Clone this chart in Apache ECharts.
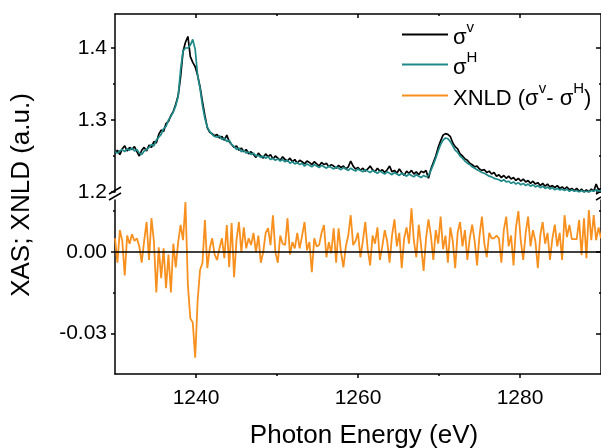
<!DOCTYPE html>
<html><head><meta charset="utf-8">
<script src="https://cdn.jsdelivr.net/npm/echarts@6/dist/echarts.min.js"></script>
<style>html,body{margin:0;padding:0;background:#fff}#c{width:601px;height:448px}</style>
</head><body><div id="c"></div>
<script>
// Photon energy grid (eV)
const energy = [
1230,1230.3,1230.6,1230.9,1231.2,1231.5,1231.8,1232.1,1232.4,1232.7,
1233,1233.3,1233.6,1233.9,1234.2,1234.5,1234.8,1235.1,1235.4,1235.7,
1236,1236.3,1236.6,1236.9,1237.2,1237.5,1237.8,1238.1,1238.4,1238.7,
1239,1239.3,1239.6,1239.9,1240.2,1240.5,1240.8,1241.1,1241.4,1241.7,
1242,1242.3,1242.6,1242.9,1243.2,1243.5,1243.8,1244.1,1244.4,1244.7,
1245,1245.3,1245.6,1245.9,1246.2,1246.5,1246.8,1247.1,1247.4,1247.7,
1248,1248.3,1248.6,1248.9,1249.2,1249.5,1249.8,1250.1,1250.4,1250.7,
1251,1251.3,1251.6,1251.9,1252.2,1252.5,1252.8,1253.1,1253.4,1253.7,
1254,1254.3,1254.6,1254.9,1255.2,1255.5,1255.8,1256.1,1256.4,1256.7,
1257,1257.3,1257.6,1257.9,1258.2,1258.5,1258.8,1259.1,1259.4,1259.7,
1260,1260.3,1260.6,1260.9,1261.2,1261.5,1261.8,1262.1,1262.4,1262.7,
1263,1263.3,1263.6,1263.9,1264.2,1264.5,1264.8,1265.1,1265.4,1265.7,
1266,1266.3,1266.6,1266.9,1267.2,1267.5,1267.8,1268.1,1268.4,1268.7,
1269,1269.3,1269.6,1269.9,1270.2,1270.5,1270.8,1271.1,1271.4,1271.7,
1272,1272.3,1272.6,1272.9,1273.2,1273.5,1273.8,1274.1,1274.4,1274.7,
1275,1275.3,1275.6,1275.9,1276.2,1276.5,1276.8,1277.1,1277.4,1277.7,
1278,1278.3,1278.6,1278.9,1279.2,1279.5,1279.8,1280.1,1280.4,1280.7,
1281,1281.3,1281.6,1281.9,1282.2,1282.5,1282.8,1283.1,1283.4,1283.7,
1284,1284.3,1284.6,1284.9,1285.2,1285.5,1285.8,1286.1,1286.4,1286.7,
1287,1287.3,1287.6,1287.9,1288.2,1288.5,1288.8,1289.1,1289.4,1289.7,
1290];
// sigma^v (black)
const sigmaV = [
1.254,1.258,1.252,1.260,1.264,1.257,1.262,1.259,1.263,1.256,
1.250,1.258,1.262,1.257,1.265,1.262,1.270,1.268,1.280,1.286,
1.284,1.295,1.298,1.306,1.312,1.322,1.334,1.360,1.395,1.408,
1.416,1.388,1.380,1.374,1.362,1.346,1.325,1.306,1.289,1.283,
1.281,1.278,1.280,1.275,1.277,1.272,1.279,1.270,1.266,1.262,
1.264,1.258,1.261,1.256,1.259,1.253,1.256,1.252,1.248,1.254,
1.250,1.247,1.253,1.249,1.252,1.246,1.250,1.247,1.244,1.249,
1.245,1.243,1.247,1.242,1.245,1.240,1.244,1.242,1.239,1.243,
1.241,1.238,1.242,1.239,1.236,1.241,1.238,1.240,1.235,1.238,
1.236,1.233,1.237,1.234,1.236,1.232,1.235,1.243,1.236,1.232,
1.234,1.230,1.233,1.229,1.232,1.236,1.231,1.228,1.233,1.229,
1.231,1.227,1.231,1.236,1.228,1.230,1.226,1.232,1.227,1.223,
1.229,1.226,1.230,1.225,1.228,1.224,1.229,1.227,1.230,1.219,
1.232,1.241,1.250,1.262,1.271,1.279,1.281,1.280,1.277,1.268,
1.263,1.260,1.253,1.250,1.246,1.244,1.240,1.238,1.235,1.236,
1.232,1.230,1.231,1.227,1.229,1.225,1.227,1.222,1.224,1.220,
1.223,1.219,1.222,1.218,1.220,1.216,1.219,1.215,1.218,1.214,
1.216,1.212,1.215,1.211,1.213,1.209,1.212,1.208,1.211,1.207,
1.209,1.206,1.209,1.205,1.207,1.204,1.207,1.203,1.205,1.202,
1.205,1.201,1.204,1.200,1.203,1.200,1.204,1.201,1.211,1.203,
1.205];
// sigma^H (teal)
const sigmaH = [
1.256,1.254,1.257,1.259,1.256,1.260,1.258,1.261,1.257,1.259,
1.254,1.252,1.257,1.259,1.262,1.266,1.264,1.272,1.276,1.280,
1.288,1.291,1.300,1.305,1.311,1.320,1.333,1.370,1.396,1.400,
1.400,1.404,1.412,1.398,1.362,1.344,1.320,1.302,1.290,1.284,
1.280,1.277,1.276,1.278,1.273,1.275,1.270,1.272,1.266,1.263,
1.259,1.261,1.256,1.258,1.254,1.256,1.252,1.254,1.250,1.251,
1.248,1.250,1.247,1.249,1.245,1.247,1.244,1.246,1.243,1.245,
1.242,1.244,1.240,1.242,1.239,1.241,1.238,1.240,1.236,1.239,
1.237,1.235,1.238,1.236,1.234,1.237,1.235,1.233,1.236,1.234,
1.232,1.235,1.233,1.231,1.234,1.232,1.230,1.233,1.231,1.229,
1.232,1.230,1.228,1.231,1.229,1.227,1.230,1.228,1.226,1.229,
1.227,1.225,1.228,1.226,1.224,1.227,1.225,1.223,1.226,1.224,
1.222,1.225,1.223,1.221,1.224,1.222,1.220,1.223,1.221,1.223,
1.230,1.238,1.247,1.257,1.266,1.272,1.275,1.274,1.270,1.264,
1.258,1.255,1.250,1.247,1.243,1.240,1.238,1.235,1.233,1.231,
1.229,1.227,1.226,1.224,1.222,1.221,1.219,1.218,1.217,1.215,
1.217,1.214,1.215,1.212,1.214,1.211,1.213,1.210,1.212,1.209,
1.211,1.208,1.210,1.207,1.209,1.206,1.208,1.205,1.207,1.204,
1.206,1.203,1.205,1.203,1.204,1.202,1.204,1.201,1.203,1.201,
1.202,1.200,1.202,1.200,1.201,1.200,1.202,1.201,1.203,1.201,
1.202];
// XNLD (orange)
const xnld = [
0.005,-0.004,0.008,0.004,-0.0087,0.006,0.003,0.0065,0.004,0.005,
0.002,-0.004,0.004,0.011,-0.003,0.0124,0.004,-0.015,0.0017,-0.0097,
0.0013,-0.0134,-0.001,-0.015,0.003,-0.0057,0.0036,0.0099,0.0043,0.0183,
-0.0123,-0.0245,-0.026,-0.039,-0.018,-0.0067,-0.004,0.0117,-0.006,0.0013,
0.005,-0.001,-0.003,0.0013,0.005,-0.0023,0.0099,-0.0057,0.0106,-0.0093,
0.0043,0.011,-0.0001,0.009,0.0013,0.005,0.0025,0.007,-0.0001,0.006,
-0.004,-0.0001,0.007,0.0087,0.0025,0.0135,-0.0001,-0.004,0.006,0.003,
0.0025,0.0124,-0.001,0.0036,0.0013,0.007,0.0013,0.006,0.011,0.0006,
0.0036,-0.0075,0.005,0.002,0.0025,0.007,0.0099,-0.002,0.0036,-0.0005,
0.0087,-0.004,0.0087,-0.0001,-0.0057,0.002,0.006,0.0135,0.0025,0.004,
0.007,-0.002,0.004,0.011,0.001,-0.005,0.006,0.003,0.009,-0.003,
0.002,0.008,0.004,-0.004,0.006,0.012,0.002,0.007,-0.006,0.005,
0.009,0.003,0.016,0.004,-0.002,0.010,0.002,-0.007,0.005,0.012,
0.006,-0.003,0.008,0.003,0.013,0.001,0.006,-0.004,0.009,0.004,
-0.006,0.007,0.011,0.002,0.008,-0.003,0.005,0.010,0.004,-0.005,
0.006,0.013,0.003,-0.002,0.007,0.005,0.005,0.006,0.005,-0.004,
0.008,0.013,0.002,0.006,-0.005,0.009,0.015,0.004,-0.003,0.007,
0.013,0.002,0.008,0.004,-0.006,0.006,0.011,0.003,0.007,-0.003,
0.005,0.010,0.002,0.007,-0.003,0.0135,0.0054,0.0099,0.0047,0.0047,
0.0047,0.0117,-0.0012,0.0124,-0.0023,0.0154,0.0043,0.0135,0.0043,0.009,
0.005];

const xTickValues = [1240, 1260, 1280];
const xTickLabels = ['1240', '1260', '1280'];
const xMinorTicks = [1250, 1270];
const topTickValues = [1.2, 1.3, 1.4];
const topTickLabels = ['1.2', '1.3', '1.4'];
const topMinorTicks = [1.25, 1.35];
const botTickValues = [-0.03, 0];
const botTickLabels = ['-0.03', '0.00'];
const botMinorTicks = [-0.015, 0.015];
const seriesNames = ['σv', 'σH', 'XNLD'];
const xTitle = 'Photon Energy (eV)';
const yTitle = 'XAS; XNLD (a.u.)';

const FONT = '"Liberation Sans", Arial, sans-serif';
const LINE = { color: '#000', width: 1.5 };
const pairs = vals => energy.map((e, i) => [e, vals[i]]);
const labeler = (vals, labs) => v => {
  const i = vals.findIndex(t => Math.abs(t - v) < 1e-6);
  return i >= 0 ? labs[i] : '';
};

function xAx(grid, pos, custom, len, inside, line, labels) {
  return {
    type: 'value', gridIndex: grid, position: pos, min: 1230, max: 1290,
    axisLine: { show: line, onZero: false, lineStyle: LINE },
    axisTick: { show: true, inside: inside, length: len, customValues: custom, lineStyle: LINE },
    axisLabel: labels ? { show: true, customValues: xTickValues, formatter: labeler(xTickValues, xTickLabels),
      fontFamily: FONT, fontSize: 21, color: '#000', margin: 14 } : { show: false },
    splitLine: { show: false }
  };
}
function yAx(grid, pos, min, max, custom, len, inside, line, labVals, labTxt) {
  return {
    type: 'value', gridIndex: grid, position: pos, min: min, max: max,
    axisLine: { show: line, onZero: false, lineStyle: LINE },
    axisTick: { show: true, inside: inside, length: len, customValues: custom, lineStyle: LINE },
    axisLabel: labVals ? { show: true, customValues: labVals, formatter: labeler(labVals, labTxt),
      fontFamily: FONT, fontSize: 21, color: '#000', margin: 8 } : { show: false },
    splitLine: { show: false }
  };
}

const TOP_MIN = 1.2, TOP_MAX = 1.4472, BOT_MIN = -0.045, BOT_MAX = 0.0191;

const rich = {
  t: { fontSize: 22, fontFamily: FONT, color: '#000', verticalAlign: 'bottom' },
  p: { fontSize: 15, fontFamily: FONT, color: '#000', verticalAlign: 'top', lineHeight: 29 }
};
const legendText = {
  'σv': '{t|σ}{p|v}',
  'σH': '{t|σ}{p|H}',
  'XNLD': '{t|XNLD (σ}{p|v}{t|- σ}{p|H}{t|)}'
};
function leg(name, top) {
  return {
    data: [name], left: 402, top: top, padding: 0, icon: 'rect', itemWidth: 46, itemHeight: 2,
    selectedMode: false, formatter: n => legendText[n],
    textStyle: { fontFamily: FONT, fontSize: 22, color: '#000', rich: rich }
  };
}

const chart = echarts.init(document.getElementById('c'), null, { renderer: 'canvas' });
chart.setOption({
  animation: false,
  backgroundColor: '#fff',
  grid: [
    { left: 115, top: 14, width: 487, height: 178 },
    { left: 115, top: 200, width: 487, height: 174 }
  ],
  xAxis: [
    xAx(0, 'top', xTickValues, 4, true, true, false),
    xAx(0, 'top', xMinorTicks, 2, true, false, false),
    xAx(1, 'bottom', xTickValues, 4, false, true, true),
    xAx(1, 'bottom', xMinorTicks, 2, false, false, false)
  ],
  yAxis: [
    yAx(0, 'left', TOP_MIN, TOP_MAX, topTickValues, 4, false, true, topTickValues, topTickLabels),
    yAx(0, 'left', TOP_MIN, TOP_MAX, topMinorTicks, 2, false, false),
    yAx(0, 'right', TOP_MIN, TOP_MAX, topTickValues, 5, true, true),
    yAx(0, 'right', TOP_MIN, TOP_MAX, topMinorTicks, 2, true, false),
    yAx(1, 'left', BOT_MIN, BOT_MAX, botTickValues, 4, false, true, botTickValues, botTickLabels),
    yAx(1, 'left', BOT_MIN, BOT_MAX, botMinorTicks, 2, false, false),
    yAx(1, 'right', BOT_MIN, BOT_MAX, botTickValues, 5, true, true),
    yAx(1, 'right', BOT_MIN, BOT_MAX, botMinorTicks, 2, true, false)
  ],
  legend: [leg(seriesNames[0], 20), leg(seriesNames[1], 50), leg(seriesNames[2], 81)],
  series: [
    { name: seriesNames[0], type: 'line', xAxisIndex: 0, yAxisIndex: 0, data: pairs(sigmaV),
      symbol: 'none', color: '#000000', lineStyle: { width: 1.7 }, z: 3 },
    { name: seriesNames[1], type: 'line', xAxisIndex: 0, yAxisIndex: 0, data: pairs(sigmaH),
      symbol: 'none', color: '#1f8a8a', lineStyle: { width: 1.7 }, z: 4 },
    { name: seriesNames[2], type: 'line', xAxisIndex: 2, yAxisIndex: 4, data: pairs(xnld),
      symbol: 'none', color: '#f7901e', lineStyle: { width: 1.8 }, z: 3,
      markLine: { silent: true, symbol: ['none', 'none'], label: { show: false },
        lineStyle: { color: '#000', width: 1.5, type: 'solid' }, data: [{ yAxis: 0 }] } }
  ],
  graphic: [
    { type: 'text', x: 22, y: 195, rotation: Math.PI / 2,
      style: { text: yTitle, font: '26px ' + FONT, fill: '#000', textAlign: 'center', textVerticalAlign: 'middle' } },
    { type: 'text', x: 364, y: 436,
      style: { text: xTitle, font: '26px ' + FONT, fill: '#000', textAlign: 'center', textVerticalAlign: 'middle' } },
    { type: 'line', shape: { x1: 109, y1: 194, x2: 121, y2: 187 }, style: { stroke: '#000', lineWidth: 1.5 } },
    { type: 'line', shape: { x1: 109, y1: 200, x2: 121, y2: 193 }, style: { stroke: '#000', lineWidth: 1.5 } },
    { type: 'line', shape: { x1: 596, y1: 194, x2: 608, y2: 187 }, style: { stroke: '#000', lineWidth: 1.5 } },
    { type: 'line', shape: { x1: 596, y1: 200, x2: 608, y2: 193 }, style: { stroke: '#000', lineWidth: 1.5 } }
  ]
});
</script></body></html>
